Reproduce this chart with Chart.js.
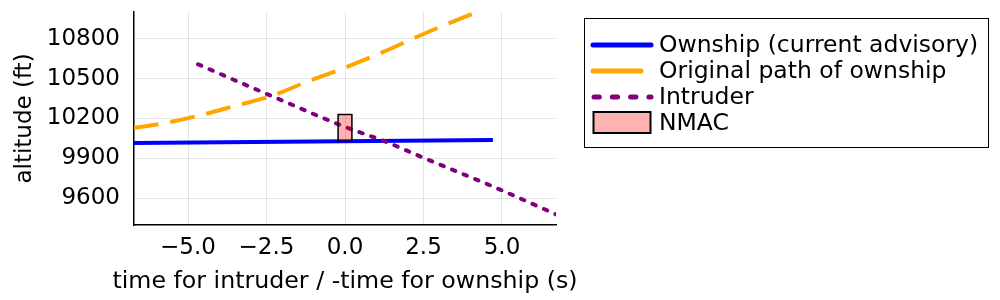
<!DOCTYPE html>
<html>
<head>
<meta charset="utf-8">
<script src="https://cdn.jsdelivr.net/npm/chart.js@4"></script>
<style>
  html, body { margin: 0; padding: 0; background: #fff; }
</style>
</head>
<body>
<canvas id="chart" width="1000" height="300"></canvas>
<script>
// values
const seriesNames = ['Ownship (current advisory)', 'Original path of ownship', 'Intruder', 'NMAC'];
const xTitle = 'time for intruder / -time for ownship (s)';
const yTitle = 'altitude (ft)';

const ownshipTime = [-6.73, 4.71];
const ownshipAlt = [10016, 10038];

const originalTime = [-6.73, -5.93, -4.73, -3.51, -2.35, -1.17, 0, 1.17, 2.28, 3.46, 4.2, 4.71];
const originalAlt = [10130, 10157, 10217, 10294, 10369, 10480, 10582, 10695, 10812, 10930, 10999, 11045];

const intruderTime = [-4.68, -2.35, 0, 1.25, 2.5, 4.7, 6.72];
const intruderAlt = [10607, 10370, 10137, 10030, 9905, 9690, 9480];

const nmacTime = [-0.22, 0.22];
const nmacAlt = [10030, 10230];

const xTicks = [-5, -2.5, 0, 2.5, 5];
const yTicks = [9600, 9900, 10200, 10500, 10800];

const FONT = 'DejaVu Sans';

function pts(xs, ys) {
    return xs.map((x, i) => ({x: x, y: ys[i]}));
}

const nmacBox = pts(
    [nmacTime[0], nmacTime[0], nmacTime[1], nmacTime[1], nmacTime[0]],
    [nmacAlt[0], nmacAlt[1], nmacAlt[1], nmacAlt[0], nmacAlt[0]]);

// x title is wider than the plot, so it is drawn here instead of by the scale
// (the scale would squeeze it to the axis width)
const xTitlePlugin = {
    id: 'xTitlePlugin',
    afterDraw(chart) {
        const ctx = chart.ctx;
        const area = chart.chartArea;
        ctx.save();
        ctx.fillStyle = '#000';
        ctx.font = '23.7px "' + FONT + '"';
        ctx.textAlign = 'center';
        ctx.textBaseline = 'alphabetic';
        ctx.fillText(xTitle, (area.left + area.right) / 2, 288);
        ctx.restore();
    }
};

// legend drawn by hand, framed like the original
const boxLegend = {
    id: 'boxLegend',
    afterDraw(chart) {
        const ctx = chart.ctx;
        ctx.save();
        ctx.fillStyle = '#fff';
        ctx.fillRect(584, 18, 405, 130);
        ctx.strokeStyle = '#000';
        ctx.lineWidth = 1;
        ctx.strokeRect(584.5, 18.5, 404, 129);

        const rows = [45, 71, 97, 123];
        ctx.lineWidth = 5;
        ctx.lineCap = 'round';

        ctx.strokeStyle = '#0000ff';
        ctx.beginPath(); ctx.moveTo(593, rows[0]); ctx.lineTo(651, rows[0]); ctx.stroke();

        ctx.strokeStyle = '#ffa500';
        ctx.beginPath(); ctx.moveTo(593, rows[1]); ctx.lineTo(641, rows[1]); ctx.stroke();

        ctx.strokeStyle = '#800080';
        ctx.setLineDash([5.3, 13]);
        ctx.beginPath(); ctx.moveTo(594, rows[2]); ctx.lineTo(651, rows[2]); ctx.stroke();
        ctx.setLineDash([]);

        ctx.fillStyle = 'rgba(255,0,0,0.3)';
        ctx.fillRect(593.5, 112, 57, 21);
        ctx.strokeStyle = '#000';
        ctx.lineWidth = 2;
        ctx.lineCap = 'butt';
        ctx.strokeRect(593.5, 112, 57, 21);

        ctx.fillStyle = '#000';
        ctx.font = '23.5px "' + FONT + '"';
        ctx.textBaseline = 'middle';
        ctx.textAlign = 'left';
        seriesNames.forEach((name, i) => ctx.fillText(name, 659, rows[i] + 1));
        ctx.restore();
    }
};

const ctx = document.getElementById('chart');
const myChart = new Chart(ctx, {
    type: 'line',
    plugins: [xTitlePlugin, boxLegend],
    data: {
        datasets: [{
            label: seriesNames[3],
            data: nmacBox,
            borderColor: '#000',
            borderWidth: 1.5,
            backgroundColor: 'rgba(255,0,0,0.3)',
            fill: 'shape',
            pointRadius: 0,
            order: 0
        }, {
            label: seriesNames[2],
            data: pts(intruderTime, intruderAlt),
            borderColor: '#800080',
            borderWidth: 4,
            borderDash: [3.5, 9],
            borderCapStyle: 'round',
            cubicInterpolationMode: 'monotone',
            pointRadius: 0,
            fill: false,
            order: 1
        }, {
            label: seriesNames[1],
            data: pts(originalTime, originalAlt),
            borderColor: '#ffa500',
            borderWidth: 4,
            borderDash: [25, 12],
            cubicInterpolationMode: 'monotone',
            pointRadius: 0,
            fill: false,
            order: 2
        }, {
            label: seriesNames[0],
            data: pts(ownshipTime, ownshipAlt),
            borderColor: '#0000ff',
            borderWidth: 4,
            pointRadius: 0,
            fill: false,
            order: 3
        }]
    },
    options: {
        responsive: false,
        animation: false,
        clip: 0,
        layout: {padding: {left: 0, top: 12, right: 444, bottom: 0}},
        scales: {
            x: {
                type: 'linear',
                min: -6.72,
                max: 6.72,
                afterBuildTicks: (scale) => { scale.ticks = xTicks.map(v => ({value: v})); },
                afterFit: (scale) => {
                    scale.height = 75;
                    scale.paddingLeft = 0; scale.paddingRight = 0;
                },
                ticks: {
                    color: '#000',
                    font: {family: FONT, size: 23},
                    padding: 9,
                    maxRotation: 0,
                    callback: (v) => (v < 0 ? '\u2212' : '') + Math.abs(v).toFixed(1)
                },
                grid: {color: 'rgba(0,0,0,0.1)', lineWidth: 1, drawTicks: false},
                border: {color: '#000', width: 1.5}
            },
            y: {
                type: 'linear',
                min: 9400,
                max: 11000,
                afterBuildTicks: (scale) => { scale.ticks = yTicks.map(v => ({value: v})); },
                afterFit: (scale) => {
                    scale.width = 134;
                    scale.paddingTop = 0; scale.paddingBottom = 0;
                },
                ticks: {
                    color: '#000',
                    font: {family: FONT, size: 23},
                    padding: 14,
                    callback: (v) => String(v)
                },
                grid: {color: 'rgba(0,0,0,0.1)', lineWidth: 1, drawTicks: false},
                border: {color: '#000', width: 1.5},
                title: {
                    display: true,
                    text: yTitle,
                    color: '#000',
                    font: {family: FONT, size: 23},
                    padding: {top: 11, bottom: 0}
                }
            }
        },
        plugins: {
            legend: {display: false},
            tooltip: {enabled: false}
        }
    }
});
</script>
</body>
</html>
